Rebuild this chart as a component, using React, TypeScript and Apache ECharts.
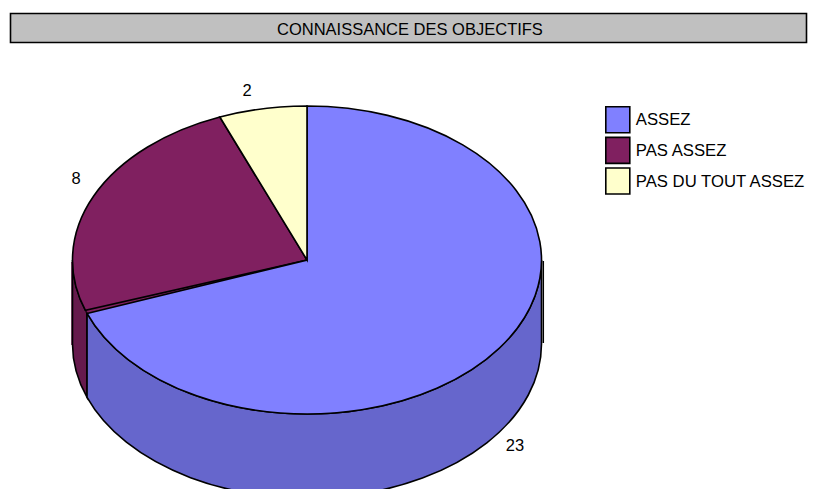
import React, { useEffect, useRef } from "react";
import * as echarts from "echarts";

const categories = ["ASSEZ", "PAS ASSEZ", "PAS DU TOUT ASSEZ"];
const values = [23, 8, 2];
const topColors = ["#8080FF", "#802060", "#FFFFCC"];
const sideColors = ["#6666CC", "#661A4D", "#CCCCA3"];
const chartTitle = "CONNAISSANCE DES OBJECTIFS";

const W = 820, H = 489;
const CX = 307, CY = 260, RX = 234.5, RY = 154, DEPTH = 84;
const FONT = "'Liberation Sans', Arial, sans-serif";
const labelPositions = [[515, 445], [76, 178], [247, 90]];
const SEAM = (1.2 * Math.PI) / 180; // blue slice stops just short of the purple one

const total = values.reduce((a, b) => a + b, 0);
// angles are clockwise from 12 o'clock, in radians
const pt = (a: number, dy = 0) => [CX + RX * Math.sin(a), CY - RY * Math.cos(a) + dy];
const arcTo = (p: number[], sweep: number, large: number) =>
  `A ${RX} ${RY} 0 ${large} ${sweep} ${p[0]} ${p[1]}`;

function sliceAngles(i: number) {
  const before = values.slice(0, i).reduce((a, b) => a + b, 0);
  return [(before / total) * 2 * Math.PI, ((before + values[i]) / total) * 2 * Math.PI];
}

function sectorPath(a0: number, a1: number) {
  const p0 = pt(a0), p1 = pt(a1);
  return `M ${CX} ${CY} L ${p0[0]} ${p0[1]} ${arcTo(p1, 1, a1 - a0 > Math.PI ? 1 : 0)} Z`;
}

function topPath(i: number) {
  const [a0, a1raw] = sliceAngles(i);
  return sectorPath(a0, i === 0 ? a1raw - SEAM : a1raw);
}

function sidePath(i: number) {
  const [a0raw, a1raw] = sliceAngles(i);
  const a0 = i === 1 ? a0raw - SEAM : a0raw;
  const a1 = i === 0 ? a1raw - SEAM : a1raw;
  const s = Math.max(a0, Math.PI / 2), e = Math.min(a1, (3 * Math.PI) / 2);
  if (e <= s) return null;
  const p0 = pt(s), p1 = pt(e), q1 = pt(e, DEPTH), q0 = pt(s, DEPTH);
  const large = e - s > Math.PI ? 1 : 0;
  return `M ${p0[0]} ${p0[1]} ${arcTo(p1, 1, large)} L ${q1[0]} ${q1[1]} ${arcTo(q0, 0, large)} Z`;
}

const line = { stroke: "#000", lineWidth: 1.6 };

function makeSeries(i: number) {
  return {
    type: "custom",
    name: categories[i],
    coordinateSystem: "none",
    silent: true,
    clip: false,
    itemStyle: { color: topColors[i] },
    z: i === 1 ? 3 : 4,
    data: [[values[i]]],
    renderItem: (_p: any, api: any) => {
      const children: any[] = [];
      const side = sidePath(i);
      if (side) {
        children.push({
          type: "path",
          shape: { pathData: side },
          style: { fill: sideColors[i], ...line },
        });
      }
      if (i === 1) {
        const [a0] = sliceAngles(i);
        children.push({
          type: "path",
          shape: { pathData: sectorPath(a0 - SEAM, a0) },
          style: { fill: topColors[i], stroke: topColors[i], lineWidth: 0.5 },
        });
      }
      children.push({
        type: "path",
        shape: { pathData: topPath(i) },
        style: { fill: topColors[i], ...line },
      });
      children.push({
        type: "text",
        x: labelPositions[i][0],
        y: labelPositions[i][1],
        style: {
          text: String(api.value(0)),
          fill: "#000",
          font: `16.5px ${FONT}`,
          align: "center",
          verticalAlign: "middle",
        },
      });
      return { type: "group", children };
    },
  };
}

export default function App() {
  const ref = useRef<HTMLDivElement>(null);
  useEffect(() => {
    document.body.style.margin = "0";
    const chart = echarts.init(ref.current!, undefined, { renderer: "svg" });
    chart.setOption({
      animation: false,
      backgroundColor: "#fff",
      title: {
        text: chartTitle,
        left: 277,
        top: 20,
        padding: 0,
        textStyle: { fontFamily: FONT, fontSize: 16.5, fontWeight: "normal", color: "#000", lineHeight: 18 },
      },
      legend: {
        orient: "vertical",
        left: 605,
        top: 106,
        padding: 0,
        itemWidth: 24,
        itemHeight: 26,
        itemGap: 3,
        textStyle: { fontFamily: FONT, fontSize: 16.7, color: "#000", padding: [0, 0, 0, 1] },
        data: categories.map((name, i) => ({
          name,
          icon: "rect",
          itemStyle: { color: topColors[i], borderColor: "#000", borderWidth: 1.6 },
        })),
      },
      graphic: [
        {
          type: "rect",
          z: -1,
          shape: { x: 10.5, y: 13.5, width: 796, height: 29 },
          style: { fill: "#C0C0C0", stroke: "#000", lineWidth: 1.6 },
        },
        {
          type: "line",
          z: 10,
          shape: { x1: 543.3, y1: 261, x2: 543.3, y2: 343 },
          style: { stroke: "#000", lineWidth: 1.5 },
        },
        {
          type: "line",
          z: 1,
          shape: { x1: 72, y1: 262, x2: 72, y2: 345 },
          style: { stroke: "#661A4D", lineWidth: 1.5 },
        },
      ],
      series: values.map((_, i) => makeSeries(i)),
    });
    return () => chart.dispose();
  }, []);
  return <div ref={ref} style={{ position: "fixed", left: 0, top: 0, width: W, height: H }} />;
}
